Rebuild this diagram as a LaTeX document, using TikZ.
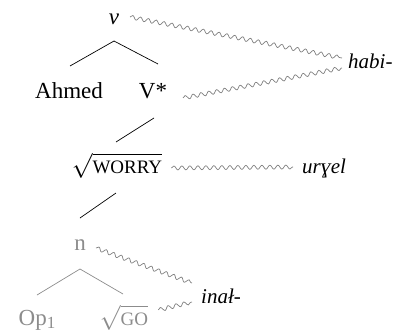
\documentclass[tikz,border=0pt]{standalone}
\usepackage{fontspec}
\setmainfont{Liberation Serif}
\usetikzlibrary{decorations.pathmorphing}
\tikzset{
  lab/.style={font=\fontsize{23}{26}\selectfont, inner sep=0pt, anchor=base},
  morph/.style={font=\fontsize{21}{24}\selectfont\itshape, inner sep=0pt, anchor=base west},
  branch/.style={line width=0.7pt},
  wavy/.style={black!50, line width=0.7pt, decorate,
    decoration={snake, segment length=8pt, amplitude=2pt}},
  faded/.style={black!45}
}
\begin{document}
\begin{tikzpicture}[x=1pt, y=-1pt]
    \useasboundingbox (0,0) rectangle (404,332);
    % tree
    \node[lab] (v) at (114,24) {\textit{v}};
    \node[lab] (ahmed) at (69,98) {Ahmed};
    \node[lab] (vstar) at (153,98) {V*};
    \node[lab] (worry) at (117,173) {$\sqrt{\mbox{\fontsize{19}{22}\selectfont WORRY}}$};
    \node[lab, faded] (n) at (80,250) {n};
    \node[lab, faded] (op) at (37,325) {Op\raisebox{-3pt}{\fontsize{17}{20}\selectfont 1}};
    \node[lab, faded] (go) at (124,325) {$\sqrt{\mbox{\fontsize{19}{22}\selectfont GO}}$};
    % exponents
    \node[morph] (habi) at (348,68) {habi-};
    \node[morph] (urgel) at (302,173) {urɣel};
    \node[morph] (inal) at (201,303) {inał-};
    % branches
    \draw[branch] ([yshift=-17pt]v.base) -- ([shift={(1pt,32pt)}]ahmed.base);
    \draw[branch] ([yshift=-17pt]v.base) -- ([shift={(5pt,34pt)}]vstar.base);
    \draw[branch] ([shift={(1pt,-20pt)}]vstar.base) -- ([shift={(-1pt,31pt)}]worry.base);
    \draw[branch] ([shift={(-1pt,-20pt)}]worry.base) -- ([yshift=32pt]n.base);
    \draw[branch, faded] ([yshift=-19pt]n.base) -- ([yshift=30pt]op.base);
    \draw[branch, faded] ([yshift=-19pt]n.base) -- ([shift={(-1pt,31pt)}]go.base);
    % spell-out
    \draw[wavy] ([shift={(16pt,7pt)}]v.base) -- ([shift={(-6pt,10pt)}]habi.base west);
    \draw[wavy] ([xshift=30pt]vstar.base) -- ([xshift=-6pt]habi.base west);
    \draw[wavy] ([shift={(9pt,5pt)}]worry.base east) -- ([shift={(-9pt,6pt)}]urgel.base west);
    \draw[wavy] ([shift={(10pt,2pt)}]n.base east) -- ([shift={(-9pt,20pt)}]inal.base west);
    \draw[wavy] ([shift={(10pt,15pt)}]go.base east) -- ([shift={(-9pt,1pt)}]inal.base west);
\end{tikzpicture}
\end{document}
